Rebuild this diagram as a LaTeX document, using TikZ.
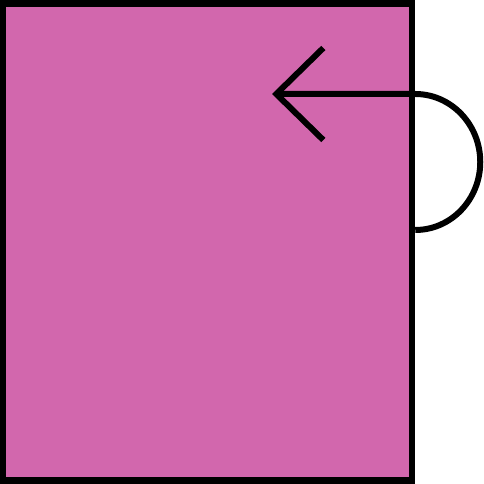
\documentclass[tikz,border=0pt]{standalone}
\usepackage{tikz}
\usetikzlibrary{arrows.meta,positioning,calc}
\definecolor{cBox}{HTML}{D267AD}

\begin{document}
\begin{tikzpicture}[
  x=1pt,y=1pt,
  blk/.style={draw,fill=cBox,line width=6.5pt,minimum width=409pt,
              minimum height=477pt,inner sep=0pt},
  fl/.style={-{Straight Barb[length=47pt,width=92pt,line cap=butt]},
             line width=6pt},
  ]
  \useasboundingbox (0,0) rectangle (484,484);
  \node[blk] (box) at (207.5,242) {};
  \coordinate (lstart) at ($(box.east)+(0,12)$);
  \coordinate (ltip) at (272,390);

  \draw[fl] (lstart) arc[start angle=-90,end angle=90,x radius=65,y radius=68] -- (ltip);
\end{tikzpicture}
\end{document}
